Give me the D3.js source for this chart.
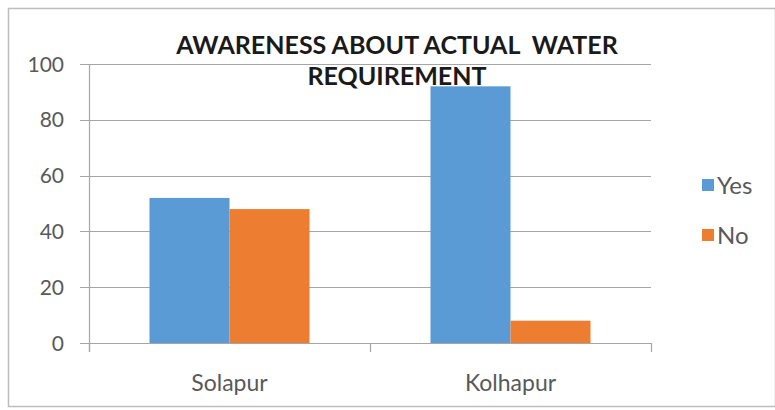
<!DOCTYPE html>
<html>
<head>
<meta charset="utf-8">
<script src="https://cdn.jsdelivr.net/npm/d3@7"></script>
<style>
  body { margin: 0; background: #fff; }
  text { font-family: Lato, "Open Sans", sans-serif; }
</style>
</head>
<body>
<div class="chart"></div>
<script>
// データ
const categories = ["Solapur", "Kolhapur"];
const series = ["Yes", "No"];
const yesValues = [52, 92];
const noValues = [48, 8];
const yTicks = [0, 20, 40, 60, 80, 100];
const titleLines = ["AWARENESS ABOUT ACTUAL  WATER", "REQUIREMENT"];

const colors = { Yes: "#5B9BD5", No: "#ED7D31" };
const W = 775, H = 410;
const plot = { left: 89, right: 651, top: 64, bottom: 343 };

const data = categories.map((c, i) => ({ cat: c, Yes: yesValues[i], No: noValues[i] }));

const svg = d3.select(".chart").append("svg")
    .attr("width", W)
    .attr("height", H);

// 外枠
svg.append("rect")
    .attr("x", 8.5).attr("y", 8.5)
    .attr("width", W - 8).attr("height", H - 12)
    .attr("fill", "#fff")
    .attr("stroke", "#bdbdbd")
    .attr("stroke-width", 1.5);

// スケール
const x = d3.scaleBand().domain(categories).range([plot.left, plot.right]);
const xSub = d3.scaleBand().domain(series).range([0, x.bandwidth()]).paddingOuter(0.756);
const y = d3.scaleLinear().domain([0, 100]).range([plot.bottom, plot.top]);

// グリッド線
svg.append("g")
    .selectAll("line")
    .data(yTicks)
    .join("line")
    .attr("x1", plot.left - 9)
    .attr("x2", plot.right)
    .attr("y1", d => Math.round(y(d)) + 0.5)
    .attr("y2", d => Math.round(y(d)) + 0.5)
    .attr("stroke", "#a6a6a6")
    .attr("stroke-width", 1.2);

// y軸ラベル
svg.append("g")
    .selectAll("text")
    .data(yTicks)
    .join("text")
    .attr("x", 64)
    .attr("y", d => y(d))
    .attr("dy", "0.36em")
    .attr("text-anchor", "end")
    .attr("font-size", 21)
    .attr("fill", "#595959")
    .text(d => d);

// y軸の線
svg.append("line")
    .attr("x1", plot.left + 0.5).attr("x2", plot.left + 0.5)
    .attr("y1", plot.top).attr("y2", plot.bottom + 9)
    .attr("stroke", "#a6a6a6")
    .attr("stroke-width", 1.2);

// x軸の目盛り
const xBounds = [plot.left, ...categories.map(c => x(c) + x.bandwidth())];
svg.append("g")
    .selectAll("line")
    .data(xBounds)
    .join("line")
    .attr("x1", d => Math.round(d) + 0.5)
    .attr("x2", d => Math.round(d) + 0.5)
    .attr("y1", plot.bottom)
    .attr("y2", plot.bottom + 9)
    .attr("stroke", "#a6a6a6")
    .attr("stroke-width", 1.2);

// 棒の描画
svg.append("g")
    .selectAll("g")
    .data(data)
    .join("g")
    .attr("transform", d => `translate(${x(d.cat)},0)`)
    .selectAll("rect")
    .data(d => series.map(s => ({ key: s, value: d[s] })))
    .join("rect")
    .attr("x", d => xSub(d.key))
    .attr("y", d => y(d.value))
    .attr("width", xSub.bandwidth())
    .attr("height", d => y(0) - y(d.value))
    .attr("fill", d => colors[d.key]);

// x軸ラベル
svg.append("g")
    .selectAll("text")
    .data(categories)
    .join("text")
    .attr("x", d => x(d) + x.bandwidth() / 2)
    .attr("y", 391)
    .attr("text-anchor", "middle")
    .attr("font-size", 23)
    .attr("fill", "#595959")
    .text(d => d);

// タイトル
svg.append("g")
    .selectAll("text")
    .data(titleLines)
    .join("text")
    .attr("x", 397)
    .attr("y", (d, i) => 54 + i * 31)
    .attr("text-anchor", "middle")
    .attr("font-size", 25)
    .attr("font-weight", "bold")
    .attr("fill", "#1a1a1a")
    .style("white-space", "pre")
    .text(d => d);

// 凡例
const legend = svg.append("g")
    .selectAll("g")
    .data(series)
    .join("g")
    .attr("transform", (d, i) => `translate(702,${185 + i * 50})`);

legend.append("rect")
    .attr("x", 0).attr("y", -6)
    .attr("width", 12).attr("height", 12)
    .attr("fill", d => colors[d]);

legend.append("text")
    .attr("x", 15)
    .attr("y", 0)
    .attr("dy", "0.36em")
    .attr("font-size", 24)
    .attr("fill", "#595959")
    .text(d => d);
</script>
</body>
</html>
